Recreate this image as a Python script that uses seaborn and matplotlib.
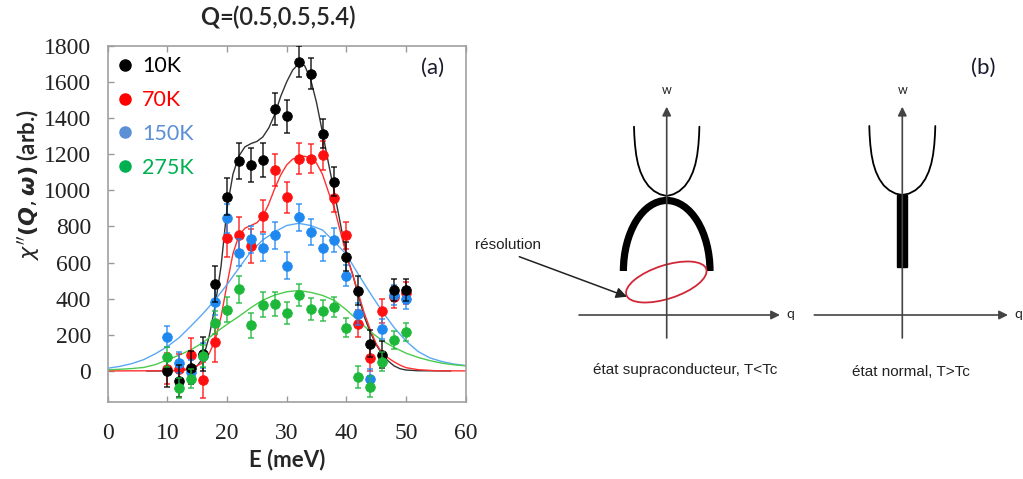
import numpy as np
import pandas as pd
import seaborn as sns
import matplotlib.pyplot as plt
from matplotlib.lines import Line2D
from matplotlib.patches import Ellipse, Arc, Rectangle

# ---------------- data ----------------
energy = [10, 12, 14, 16, 18, 20, 22, 24, 26, 28, 30, 32, 34, 36, 38, 40, 42, 44, 46, 48, 50]
chi_10K = [0, -55, 18, 92, 483, 965, 1164, 1138, 1166, 1450, 1409, 1712, 1645, 1313, 1048, 631, 444, 151, 90, 446, 446]
chi_70K = [12, 8, 90, -50, 160, 738, 751, 690, 858, 1112, 961, 1175, 1175, 1193, 957, 751, 262, 70, 332, 410, 430]
chi_150K = [190, 46, -4, 85, 382, 845, 655, 728, 682, 752, 583, 850, 769, 679, 725, 528, 315, -46, 232, 422, 397]
chi_275K = [79, -96, -42, 83, 267, 339, 452, 253, 367, 371, 319, 419, 343, 334, 356, 240, -35, -87, 52, 170, 214]

err_10K = [90, 90, 90, 95, 100, 100, 100, 95, 95, 90, 90, 85, 85, 80, 80, 80, 80, 75, 75, 60, 60]
err_70K = [85, 85, 90, 100, 110, 110, 100, 95, 90, 90, 85, 85, 80, 80, 80, 75, 75, 70, 65, 60, 60]
err_150K = [60, 60, 65, 70, 75, 80, 75, 75, 75, 75, 75, 75, 70, 70, 65, 60, 60, 55, 55, 55, 55]
err_275K = [55, 55, 55, 60, 65, 70, 75, 70, 70, 65, 60, 60, 60, 60, 55, 55, 60, 60, 55, 50, 50]

fitE_10K = [6.5, 10, 12, 14, 15, 16, 17, 18, 19, 20, 21, 22, 23, 24, 25, 26, 27, 28, 29, 30, 31, 32, 33,
            34, 35, 36, 37, 38, 39, 40, 41, 42, 43, 44, 45, 46, 47, 48, 49, 50, 52, 57.5]
fit_10K = [0, 0, 2, 10, 28, 72, 190, 360, 580, 900, 1090, 1190, 1240, 1258, 1270, 1295, 1345, 1420, 1520,
           1600, 1665, 1700, 1690, 1615, 1485, 1320, 1150, 985, 815, 640, 540, 420, 300, 215, 145, 92, 55,
           28, 12, 5, 1, 0]
fitE_70K = [0, 10, 12, 14, 16, 17, 18, 19, 20, 21, 22, 23, 24, 25, 26, 27, 28, 29, 30, 31, 32, 33, 34, 35,
            36, 37, 38, 39, 40, 41, 42, 43, 44, 45, 46, 47, 48, 49, 50, 52, 55, 60]
fit_70K = [0, 1, 4, 15, 45, 95, 170, 300, 480, 650, 750, 790, 805, 820, 855, 925, 1010, 1085, 1140, 1172,
           1186, 1188, 1178, 1150, 1088, 990, 900, 770, 645, 540, 430, 320, 230, 150, 100, 72, 50, 32, 18,
           7, 1, 0]
fitE_broad = [0, 2, 4, 6, 8, 10, 12, 14, 16, 18, 20, 22, 24, 26, 28, 30, 32, 34, 36, 38, 40, 42, 44, 46,
              48, 50, 52, 54, 56, 58, 60]
fit_150K = [15, 25, 40, 62, 95, 135, 185, 250, 318, 393, 478, 570, 660, 725, 770, 805, 817, 805, 780, 715,
            645, 535, 430, 330, 240, 165, 108, 72, 52, 38, 30]
fit_275K = [6, 9, 13, 19, 35, 61, 88, 118, 158, 210, 258, 302, 350, 392, 420, 438, 445, 435, 418, 390, 338,
            278, 218, 168, 130, 98, 75, 57, 43, 34, 28]

series = ["10K", "70K", "150K", "275K"]
yticks = [0, 200, 400, 600, 800, 1000, 1200, 1400, 1600, 1800]
xticks = [0, 10, 20, 30, 40, 50, 60]

# diagram geometry (panel b, in pixel units of the figure)
u_left_q = [634.0, 634.3, 635.0, 636.2, 638.0, 640.5, 644.0, 648.5, 654.0, 660.0, 666.7]
u_right_q = [666.7, 673.4, 679.4, 684.9, 689.4, 692.9, 695.4, 697.2, 698.4, 699.1, 699.4]
u_w = [126.7, 135.0, 145.0, 155.0, 164.0, 172.0, 179.5, 186.0, 191.0, 194.3, 196.0]
u_w_rev = [196.0, 194.3, 191.0, 186.0, 179.5, 172.0, 164.0, 155.0, 145.0, 135.0, 126.7]
u2_left_q = [869.3, 869.6, 870.3, 871.5, 873.3, 875.8, 879.3, 883.8, 889.3, 895.6, 902.3]
u2_right_q = [902.3, 909.0, 915.3, 920.8, 925.3, 928.8, 931.3, 933.1, 934.3, 935.0, 935.3]
u2_w = [126.0, 134.5, 144.5, 154.5, 163.5, 171.5, 179.0, 185.5, 190.3, 193.6, 195.0]
u2_w_rev = [195.0, 193.6, 190.3, 185.5, 179.0, 171.5, 163.5, 154.5, 144.5, 134.5, 126.0]

# ---------------- styling ----------------
sns.set_theme(style="white")
plt.rcParams["font.family"] = ["Lato", "DejaVu Sans"]

colors = {"10K": "#000000", "70K": "#FF1010", "150K": "#1E88F0", "275K": "#1DB83A"}
legend_colors = {"10K": "#000000", "70K": "#FF0000", "150K": "#5B8FD6", "275K": "#00B050"}
curve_colors = {"10K": "#333333", "70K": "#FF3030", "150K": "#5AA8F5", "275K": "#4CCB4C"}

W, H = 1023, 479
fig = plt.figure(figsize=(W / 100, H / 100), dpi=100)
ax = fig.add_axes([107.7 / W, 1 - 402 / H, 358 / W, 356.3 / H])

pts = pd.DataFrame({
    "E": energy * 4,
    "chi": chi_10K + chi_70K + chi_150K + chi_275K,
    "err": err_10K + err_70K + err_150K + err_275K,
    "T": sum([[s] * len(energy) for s in series], []),
})
fits = pd.concat([
    pd.DataFrame({"E": fitE_10K, "chi": fit_10K, "T": "10K"}),
    pd.DataFrame({"E": fitE_70K, "chi": fit_70K, "T": "70K"}),
    pd.DataFrame({"E": fitE_broad, "chi": fit_150K, "T": "150K"}),
    pd.DataFrame({"E": fitE_broad, "chi": fit_275K, "T": "275K"}),
])

sns.lineplot(data=fits, x="E", y="chi", hue="T", palette=curve_colors, lw=1.0,
             legend=False, ax=ax, sort=False, zorder=2)

draw_order = ["70K", "150K", "10K", "275K"]
for i, s in enumerate(draw_order):
    d = pts[pts["T"] == s]
    ax.errorbar(d["E"], d["chi"], yerr=d["err"], fmt="none", ecolor=colors[s],
                elinewidth=1.1, capsize=2.5, capthick=1.1, zorder=3 + 2 * i, alpha=0.85)
    sns.scatterplot(data=d, x="E", y="chi", color=colors[s], s=48, edgecolor=colors[s],
                    linewidth=0.6, ax=ax, zorder=4 + 2 * i, legend=False)

ax.set_xlim(0, 60)
ax.set_ylim(-172, 1800)
ax.set_xticks(xticks)
ax.set_yticks(yticks)
ax.set_xticklabels([str(v) for v in xticks], family="Liberation Serif", fontsize=17)
ax.set_yticklabels([str(v) for v in yticks], family="Liberation Serif", fontsize=17)
ax.tick_params(axis="both", direction="in", length=4, width=1, color="#999999",
               labelcolor="#222222", top=True, bottom=True, left=True, right=False)
ax.tick_params(axis="x", pad=15)
ax.tick_params(axis="y", pad=12)
for sp in ax.spines.values():
    sp.set_color("#A0A0A0")
    sp.set_linewidth(1.2)
ax.set_xlabel("")
ax.set_ylabel("")

handles = [Line2D([], [], ls="none", marker="o", ms=8, color=legend_colors[s]) for s in series]
leg = ax.legend(handles, series, loc="upper left", bbox_to_anchor=(0.018, 0.97), frameon=False,
                fontsize=15.5, handlelength=1.0, handletextpad=0.3, labelspacing=0.64,
                borderpad=0, borderaxespad=0)
for t, s in zip(leg.get_texts(), series):
    t.set_color(legend_colors[s])

fig.text(433 / W, 1 - 68 / H, "(a)", ha="center", va="center", fontsize=16, color="#1a1a2e")

fig.text(219 / W, 1 - 17 / H, "Q", ha="right", va="center", fontsize=17, fontweight="bold")
fig.text(219 / W, 1 - 17 / H, "=(0.5,0.5,5.4)", ha="left", va="center", fontsize=17,
         fontweight="semibold")
fig.text(287 / W, 1 - 460 / H, "E (meV)", ha="center", va="center", fontsize=16, fontweight="bold")
fig.text(28 / W, 1 - 185 / H, r"$\boldsymbol{\chi''(Q,\omega)}$ (arb.)", rotation=90,
         ha="center", va="center", fontsize=16, fontweight="bold")

# ---------------- panel (b): schematic ----------------
bx = fig.add_axes([480 / W, 0, 543 / W, 1])
bx.set_xlim(480, 1023)
bx.set_ylim(479, 0)
bx.axis("off")

axis_col = "#444444"
arrow_kw = dict(arrowstyle="-|>", lw=1.2, color=axis_col, mutation_scale=13, shrinkA=0, shrinkB=0)
for xa, x0, x1 in [(666.7, 579, 780), (902.3, 814.3, 1008)]:
    bx.annotate("", xy=(xa, 106.7), xytext=(xa, 338), arrowprops=arrow_kw)
    bx.annotate("", xy=(x1, 315), xytext=(x0, 315), arrowprops=arrow_kw)
    bx.text(xa, 90, "w", ha="center", va="center", fontsize=9, color="#222222")
    bx.text(x1 + 6, 314, "q", ha="left", va="center", fontsize=10, color="#222222")

bx.plot(u_left_q + u_right_q, u_w + u_w_rev, color="black", lw=1.3)
bx.plot(u2_left_q + u2_right_q, u2_w + u2_w_rev, color="black", lw=1.3)
bx.add_patch(Arc((666.7, 271), 86.6, 141, theta1=180, theta2=360, lw=5.2, color="black",
                 capstyle="butt"))
bx.add_patch(Ellipse((666.3, 282), 84, 33.4, angle=-18, fill=False, ec="#D02838", lw=1.3))
bx.add_patch(Rectangle((896.9, 195), 10.6, 71.7, color="black"))

bx.annotate("", xy=(627, 296.7), xytext=(519.3, 256.7),
            arrowprops=dict(arrowstyle="-|>", lw=1.1, color="#222222", mutation_scale=16,
                            shrinkA=0, shrinkB=0))
narrow = ["Liberation Sans Narrow", "Liberation Sans", "DejaVu Sans"]
bx.text(475, 245, "résolution", ha="left", va="center", fontsize=11, family=narrow, color="#222222")
bx.text(684.7, 370, "état supraconducteur, T<Tc", ha="center", va="center", fontsize=11,
        family=narrow, color="#222222")
bx.text(910.5, 372, "état normal, T>Tc", ha="center", va="center", fontsize=11,
        family=narrow, color="#222222")
bx.text(983.3, 68.3, "(b)", ha="center", va="center", fontsize=16, color="#1a1a2e")

fig.savefig("out.png", dpi=100)
